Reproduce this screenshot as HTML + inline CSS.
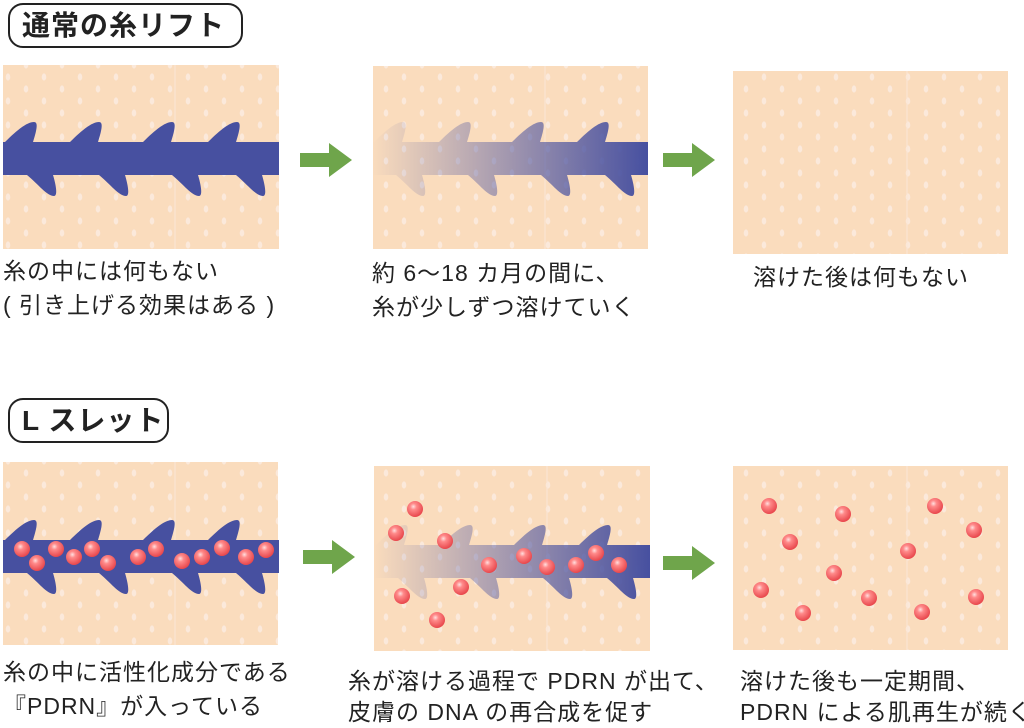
<!DOCTYPE html>
<html><head><meta charset="utf-8"><style>
body{margin:0;width:1024px;height:725px;background:#fff;position:relative;overflow:hidden;font-family:"Liberation Sans","Noto Sans CJK JP",sans-serif;color:#222}
.t{position:absolute;font-size:23px;letter-spacing:1px;line-height:34px;white-space:nowrap}
.h{position:absolute;border:2px solid #222;border-radius:15px;font-size:28px;font-weight:bold;line-height:42px;padding-left:12px;box-sizing:border-box;white-space:nowrap;letter-spacing:1px}
svg{position:absolute;left:0;top:0}
</style></head><body>
<svg width="1024" height="725" viewBox="0 0 1024 725">
<defs>
<pattern id="dots" width="36" height="24" patternUnits="userSpaceOnUse">
<rect width="36" height="24" fill="#fadcbd"/>
<ellipse cx="8" cy="5" rx="2.3" ry="3.6" fill="#fbe9db"/>
<ellipse cx="26" cy="17" rx="2.3" ry="3.6" fill="#fbe9db"/>
</pattern>
<radialGradient id="ball" cx="0.4" cy="0.35" r="0.65">
<stop offset="0" stop-color="#ffe0e0"/><stop offset="0.3" stop-color="#ff8a8a"/><stop offset="1" stop-color="#e8474c"/>
</radialGradient>
<linearGradient id="fade" x1="0" y1="0" x2="276" y2="0" gradientUnits="userSpaceOnUse">
<stop offset="0" stop-color="#4750a0" stop-opacity="0"/><stop offset="0.35" stop-color="#4750a0" stop-opacity="0.35"/><stop offset="1" stop-color="#4750a0" stop-opacity="1"/>
</linearGradient>
<g id="thr">
<path d="M0,0H276V33H0Z"/>
<path d="M2,0 C14,-12 24,-20 31,-20 C36,-20 33,-10 30,0 Z"/>
<path d="M67,0 C79,-12 89,-20 96,-20 C101,-20 98,-10 95,0 Z"/>
<path d="M140,0 C152,-12 162,-20 169,-20 C174,-20 171,-10 168,0 Z"/>
<path d="M205,0 C217,-12 227,-20 234,-20 C239,-20 236,-10 233,0 Z"/>
<path d="M24,33 C36,43 44,54 51,54 C55,54 53,43 50,33 Z"/>
<path d="M96,33 C108,43 116,54 123,54 C127,54 125,43 122,33 Z"/>
<path d="M169,33 C181,43 189,54 196,54 C200,54 198,43 195,33 Z"/>
<path d="M233,33 C245,43 253,54 260,54 C264,54 262,43 259,33 Z"/>
</g>
<path id="arr" d="M0,-7H29V-17L52,0L29,17V7H0Z" fill="#6fa54b"/>
</defs>
<rect x="3" y="65" width="276" height="184" fill="url(#dots)"/>
<rect x="373" y="66" width="275" height="183" fill="url(#dots)"/>
<rect x="733" y="71" width="275" height="183" fill="url(#dots)"/>
<rect x="3" y="462" width="275" height="183" fill="url(#dots)"/>
<rect x="374" y="466" width="276" height="185" fill="url(#dots)"/>
<rect x="733" y="466" width="275" height="184" fill="url(#dots)"/>
<g stroke="#fbe6d6" stroke-width="1">
<line x1="175" y1="65" x2="175" y2="249"/><line x1="545" y1="66" x2="545" y2="249"/><line x1="907" y1="71" x2="907" y2="254"/>
<line x1="175" y1="462" x2="175" y2="645"/><line x1="547" y1="466" x2="547" y2="651"/><line x1="907" y1="466" x2="907" y2="650"/>
</g>
<use href="#thr" transform="translate(3,142)" fill="#4750a0"/>
<use href="#thr" transform="translate(372,142)" fill="url(#fade)"/>
<use href="#thr" transform="translate(3,540)" fill="#4750a0"/>
<use href="#thr" transform="translate(374,545)" fill="url(#fade)"/>
<use href="#arr" transform="translate(300,160)"/>
<use href="#arr" transform="translate(663,160)"/>
<use href="#arr" transform="translate(303,557)"/>
<use href="#arr" transform="translate(663,563)"/>
<g fill="url(#ball)">
<circle cx="22" cy="549" r="8"/><circle cx="37" cy="563" r="8"/><circle cx="56" cy="549" r="8"/><circle cx="74" cy="557" r="8"/><circle cx="92" cy="549" r="8"/><circle cx="108" cy="563" r="8"/><circle cx="138" cy="557" r="8"/><circle cx="156" cy="549" r="8"/><circle cx="182" cy="561" r="8"/><circle cx="202" cy="557" r="8"/><circle cx="222" cy="548" r="8"/><circle cx="246" cy="557" r="8"/><circle cx="266" cy="550" r="8"/>
<circle cx="415" cy="509" r="8"/><circle cx="396" cy="533" r="8"/><circle cx="445" cy="541" r="8"/><circle cx="402" cy="596" r="8"/><circle cx="461" cy="587" r="8"/><circle cx="437" cy="620" r="8"/><circle cx="489" cy="565" r="8"/><circle cx="524" cy="556" r="8"/><circle cx="547" cy="567" r="8"/><circle cx="576" cy="565" r="8"/><circle cx="596" cy="553" r="8"/><circle cx="619" cy="565" r="8"/>
<circle cx="769" cy="506" r="8"/><circle cx="843" cy="514" r="8"/><circle cx="935" cy="506" r="8"/><circle cx="974" cy="530" r="8"/><circle cx="790" cy="542" r="8"/><circle cx="908" cy="551" r="8"/><circle cx="834" cy="573" r="8"/><circle cx="761" cy="590" r="8"/><circle cx="869" cy="598" r="8"/><circle cx="976" cy="597" r="8"/><circle cx="803" cy="613" r="8"/><circle cx="922" cy="612" r="8"/>
</g>
</svg>
<div class="h" style="left:8px;top:3px;width:235px;height:45px">通常の糸リフト</div>
<div class="h" style="left:8px;top:398px;width:161px;height:45px">L スレット</div>
<div class="t" style="left:3px;top:254px">糸の中には何もない<br>( 引き上げる効果はある )</div>
<div class="t" style="left:372px;top:256px">約 6〜18 カ月の間に、<br>糸が少しずつ溶けていく</div>
<div class="t" style="left:753px;top:260px">溶けた後は何もない</div>
<div class="t" style="left:3px;top:655px">糸の中に活性化成分である<br>『PDRN』が入っている</div>
<div class="t" style="left:348px;top:666px;line-height:31px">糸が溶ける過程で PDRN が出て、<br>皮膚の DNA の再合成を促す</div>
<div class="t" style="left:740px;top:666px;line-height:31px">溶けた後も一定期間、<br>PDRN による肌再生が続く</div>
</body></html>
